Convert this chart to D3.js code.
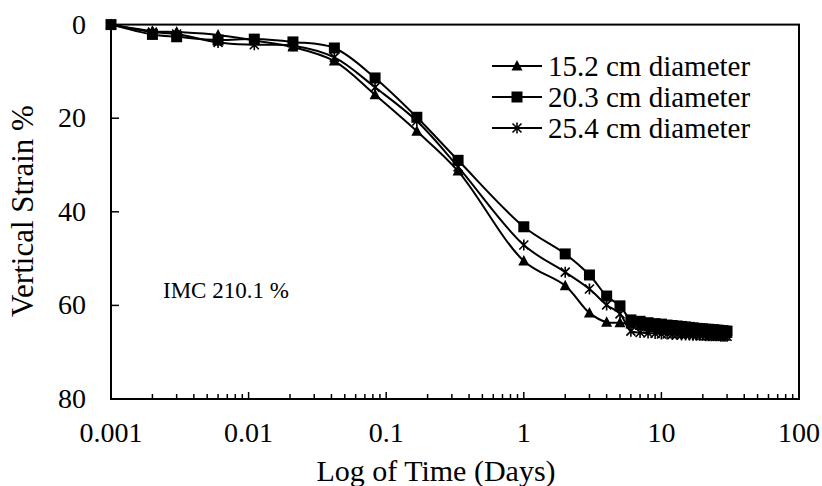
<!DOCTYPE html>
<html>
<head>
<meta charset="utf-8">
<script src="https://cdn.jsdelivr.net/npm/d3@7"></script>
<style>
	body { margin: 0; background: #fff; }
	text { font-family: "Liberation Serif", "Times New Roman", serif; fill: #000; }
</style>
</head>
<body>
<svg id="chart" width="822" height="486"></svg>
<script>
// time in days, log scale
var days = [0.001, 0.002, 0.003, 0.006, 0.011, 0.021, 0.042, 0.083, 0.167, 0.333,
	1, 2, 3, 4, 5, 6, 7, 8, 9, 10, 11, 12, 13, 14, 15, 16, 17, 18, 19, 20,
	21, 22, 23, 24, 25, 26, 27, 28, 29, 30];

// vertical strain % per sample diameter
var d152 = [0, 1.4, 1.6, 2.2, 3.4, 4.8, 7.8, 15.0, 22.8, 31.3,
	50.5, 55.8, 61.6, 63.6, 63.7, 64.0, 64.3, 64.6, 64.8, 65.0, 65.1, 65.2, 65.3, 65.4, 65.5, 65.5, 65.6, 65.6, 65.7, 65.7,
	65.8, 65.8, 65.8, 65.9, 65.9, 65.9, 66.0, 66.0, 66.0, 66.0];
var d203 = [0, 2.1, 2.6, 3.3, 3.1, 3.7, 5.0, 11.4, 19.8, 29.0,
	43.2, 49.0, 53.5, 58.0, 60.1, 63.1, 63.4, 63.7, 63.9, 64.0, 64.2, 64.3, 64.4, 64.5, 64.6, 64.7, 64.8, 64.9, 65.0, 65.0,
	65.1, 65.1, 65.2, 65.2, 65.3, 65.3, 65.4, 65.4, 65.5, 65.5];
var d254 = [0, 1.6, 2.0, 3.8, 4.3, 4.5, 7.0, 13.4, 20.6, 30.4,
	47.1, 52.9, 56.5, 59.9, 61.8, 65.5, 65.8, 65.9, 66.0, 66.1, 66.1, 66.2, 66.2, 66.3, 66.3, 66.3, 66.4, 66.4, 66.4, 66.4,
	66.5, 66.5, 66.5, 66.5, 66.5, 66.5, 66.6, 66.6, 66.6, 66.6];

var seriesNames = ["15.2 cm diameter", "20.3 cm diameter", "25.4 cm diameter"];
var seriesValues = [d152, d203, d254];
var seriesMarks = ["triangle", "square", "star"];

var xTicks = [0.001, 0.01, 0.1, 1, 10, 100];
var yTicks = [0, 20, 40, 60, 80];

var svg = d3.select("#chart");
var pLeft = 111, pRight = 799, pTop = 24.6, pBottom = 399;

var x = d3.scaleLog().domain([0.001, 100]).range([pLeft, pRight]);
var y = d3.scaleLinear().domain([0, 80]).range([pTop, pBottom]);

// frame
svg.append("rect")
	.attr("x", pLeft).attr("y", pTop)
	.attr("width", pRight - pLeft).attr("height", pBottom - pTop)
	.attr("fill", "none").attr("stroke", "#000").attr("stroke-width", 2);

// minor x ticks (inside, pointing up)
var minor = [];
for (var dec = -3; dec < 2; dec++) {
	for (var m = 2; m <= 10; m++) minor.push(m * Math.pow(10, dec));
}
svg.append("g").selectAll("line").data(minor).enter().append("line")
	.attr("x1", function (d) { return x(d) }).attr("x2", function (d) { return x(d) })
	.attr("y1", pBottom).attr("y2", function (d, i) { return (i % 9 == 8) ? pBottom - 7 : pBottom - 5 })
	.attr("stroke", "#000").attr("stroke-width", 1.5);

// x tick labels
svg.append("g").selectAll("text").data(xTicks).enter().append("text")
	.attr("x", function (d) { return x(d) })
	.attr("y", 442)
	.attr("text-anchor", "middle")
	.style("font-size", "28px")
	.text(function (d) { return d3.format("~g")(d) });

// y ticks
svg.append("g").selectAll("line").data(yTicks.slice(1, 4)).enter().append("line")
	.attr("x1", pLeft).attr("x2", pLeft + 8)
	.attr("y1", function (d) { return y(d) }).attr("y2", function (d) { return y(d) })
	.attr("stroke", "#000").attr("stroke-width", 1.5);

svg.append("g").selectAll("text").data(yTicks).enter().append("text")
	.attr("x", 86)
	.attr("y", function (d) { return y(d) + 9 })
	.attr("text-anchor", "end")
	.style("font-size", "28px")
	.text(function (d) { return d });

// axis titles
svg.append("text")
	.attr("x", 436).attr("y", 481)
	.attr("text-anchor", "middle")
	.style("font-size", "30px")
	.text("Log of Time (Days)");

svg.append("text")
	.attr("transform", "translate(33,211) rotate(-90)")
	.attr("text-anchor", "middle")
	.style("font-size", "31px")
	.text("Vertical Strain %");

svg.append("text")
	.attr("x", 163).attr("y", 298)
	.style("font-size", "23px")
	.text("IMC 210.1 %");

// markers
function marker(g, type, cx, cy) {
	if (type == "triangle") {
		g.append("path")
			.attr("d", "M" + cx + "," + (cy - 6) + "L" + (cx + 5.5) + "," + (cy + 4.5) + "L" + (cx - 5.5) + "," + (cy + 4.5) + "Z")
			.attr("fill", "#000");
	} else if (type == "square") {
		g.append("rect")
			.attr("x", cx - 5.5).attr("y", cy - 5.5)
			.attr("width", 11).attr("height", 11)
			.attr("fill", "#000");
	} else {
		var s = 4.5;
		g.append("path")
			.attr("d", "M" + (cx - s) + "," + (cy - s) + "L" + (cx + s) + "," + (cy + s) +
				"M" + (cx + s) + "," + (cy - s) + "L" + (cx - s) + "," + (cy + s) +
				"M" + cx + "," + (cy - s - 1) + "L" + cx + "," + (cy + s + 1))
			.attr("stroke", "#000").attr("stroke-width", 1.6).attr("fill", "none");
	}
}

var line = d3.line()
	.x(function (d) { return x(d[0]) })
	.y(function (d) { return y(d[1]) })
	.curve(d3.curveCatmullRom.alpha(0.5));

seriesValues.forEach(function (vals, k) {
	var pts = days.map(function (t, i) { return [t, vals[i]] });
	var g = svg.append("g");
	g.append("path")
		.attr("d", line(pts))
		.attr("fill", "none").attr("stroke", "#000").attr("stroke-width", 2);
	pts.forEach(function (p) {
		marker(g, seriesMarks[k], x(p[0]), y(p[1]));
	});
});

// legend
var leg = svg.append("g");
seriesNames.forEach(function (name, k) {
	var ly = 66 + k * 31;
	leg.append("line")
		.attr("x1", 492).attr("x2", 542).attr("y1", ly).attr("y2", ly)
		.attr("stroke", "#000").attr("stroke-width", 2);
	marker(leg, seriesMarks[k], 517, ly);
	leg.append("text")
		.attr("x", 548).attr("y", ly + 10)
		.style("font-size", "29px")
		.text(name);
});
</script>
</body>
</html>
